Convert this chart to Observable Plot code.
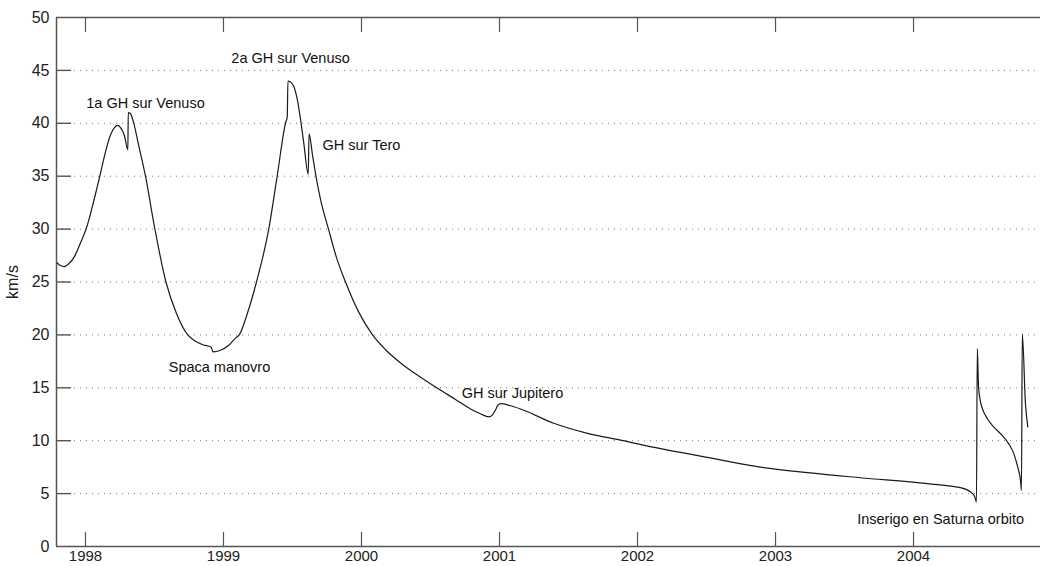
<!DOCTYPE html>
<html><head><meta charset="utf-8">
<script src="https://cdn.jsdelivr.net/npm/d3@7"></script>
<script src="https://cdn.jsdelivr.net/npm/@observablehq/plot@0.6"></script>
<style>body{margin:0;background:#fff} svg{display:block}</style>
</head><body><div id="chart"></div>
<script>
// Cassini speed relative to the Sun (km/s) over time (decimal years)
const years = [
  1997.795, 1997.819, 1997.843, 1997.877, 1997.920, 1997.964, 1998.007, 1998.051, 1998.102, 1998.145,
  1998.181, 1998.210, 1998.232, 1998.254, 1998.283, 1998.307, 1998.310, 1998.326, 1998.350, 1998.384,
  1998.435, 1998.500, 1998.583, 1998.660, 1998.741, 1998.797, 1998.855, 1998.909, 1998.924, 1998.978,
  1999.036, 1999.087, 1999.114, 1999.172, 1999.239, 1999.328, 1999.389, 1999.449, 1999.462, 1999.467,
  1999.486, 1999.509, 1999.534, 1999.558, 1999.582, 1999.614, 1999.620, 1999.645, 1999.670, 1999.703,
  1999.761, 1999.819, 1999.884, 1999.978, 2000.080, 2000.174, 2000.283, 2000.428, 2000.558, 2000.681,
  2000.790, 2000.862, 2000.922, 2000.949, 2000.971, 2000.988, 2001.012, 2001.080, 2001.152, 2001.393,
  2001.638, 2001.877, 2002.167, 2002.456, 2002.891, 2003.253, 2003.616, 2004.101, 2004.340, 2004.413,
  2004.442, 2004.456, 2004.462, 2004.471, 2004.485, 2004.500, 2004.534, 2004.581, 2004.642, 2004.690,
  2004.726, 2004.755, 2004.775, 2004.782, 2004.788, 2004.811, 2004.828];
const speeds = [
  26.8, 26.55, 26.45, 26.7, 27.4, 28.7, 30.1, 32.2, 34.9, 37.3,
  38.9, 39.6, 39.8, 39.6, 38.8, 37.5, 41.0, 40.9, 40.0, 38.0,
  35.0, 30.2, 25.0, 22.0, 20.0, 19.4, 19.05, 18.85, 18.4, 18.55,
  19.0, 19.7, 20.0, 22.0, 25.0, 30.0, 35.0, 40.0, 40.6, 44.0,
  43.9, 43.5, 42.3, 40.4, 38.1, 35.2, 39.0, 37.0, 35.0, 32.8,
  30.0, 27.3, 25.0, 22.2, 20.0, 18.6, 17.35, 16.0, 14.9, 13.9,
  13.0, 12.55, 12.25, 12.45, 12.9, 13.35, 13.5, 13.3, 13.0, 11.65,
  10.7, 10.05, 9.25, 8.55, 7.5, 6.95, 6.5, 5.94, 5.56, 5.15,
  4.75, 4.2, 18.7, 15.1, 13.7, 13.0, 12.1, 11.3, 10.5, 9.7,
  8.8, 7.5, 6.25, 5.3, 20.1, 13.5, 11.3];

const yearTicks = [1998, 1999, 2000, 2001, 2002, 2003, 2004];
const speedTicks = [0, 5, 10, 15, 20, 25, 30, 35, 40, 45, 50];
const gridTicks = [5, 10, 15, 20, 25, 30, 35, 40, 45];
const yLabel = "km/s";

const noteTexts = ["1a GH sur Venuso", "2a GH sur Venuso", "GH sur Tero", "Spaca manovro", "GH sur Jupitero", "Inserigo en Saturna orbito"];
const noteYears = [1998.435, 1999.486, 1999.717, 1998.971, 2001.094, 2004.196];
const noteSpeeds = [41.9, 46.1, 37.9, 16.9, 14.5, 2.56];
const noteAnchors = ["middle", "middle", "start", "middle", "middle", "middle"];

const series = years.map((x, i) => ({x, y: speeds[i]}));
const notes = noteTexts.map((t, i) => ({t, x: noteYears[i], y: noteSpeeds[i], a: noteAnchors[i]}));

const font = "'Liberation Sans', Arial, Helvetica, sans-serif";
const axisColor = "#555";

const chart = Plot.plot({
  width: 1040,
  height: 566,
  marginLeft: 56,
  marginRight: 0,
  marginTop: 17,
  marginBottom: 20,
  style: {fontFamily: font, fontSize: "13px", color: "#222", background: "#fff"},
  x: {domain: [1997.79, 2004.92]},
  y: {domain: [0, 50]},
  marks: [
    Plot.ruleY(gridTicks, {stroke: "#777", strokeDasharray: "1,5", strokeWidth: 1}),
    Plot.tickY(gridTicks, {stroke: axisColor, strokeWidth: 1.4, insetRight: 969}),
    Plot.tickX(yearTicks, {stroke: axisColor, strokeWidth: 1.2, insetTop: 515}),
    Plot.tickX(yearTicks, {stroke: axisColor, strokeWidth: 1.2, insetBottom: 514}),
    Plot.ruleY([0, 50], {stroke: axisColor, strokeWidth: 1.5}),
    Plot.ruleX([1997.79], {stroke: axisColor, strokeWidth: 1.5}),
    Plot.axisY(speedTicks, {tickSize: 0, tickPadding: 7, fontSize: 16, label: yLabel, labelAnchor: "center", labelOffset: 50, labelArrow: "none"}),
    Plot.axisX(yearTicks, {tickSize: 0, tickPadding: 4, fontSize: 15, tickFormat: d => String(d), label: null}),
    Plot.line(series, {x: "x", y: "y", curve: "monotone-x", stroke: "#1a1a1a", strokeWidth: 1.2}),
    Plot.text(notes.filter(d => d.a === "middle"), {x: "x", y: "y", text: "t", textAnchor: "middle", fontSize: 14.5, fill: "#111"}),
    Plot.text(notes.filter(d => d.a === "start"), {x: "x", y: "y", text: "t", textAnchor: "start", fontSize: 14.5, fill: "#111"})
  ]
});
document.getElementById("chart").appendChild(chart);
</script>
</body></html>
